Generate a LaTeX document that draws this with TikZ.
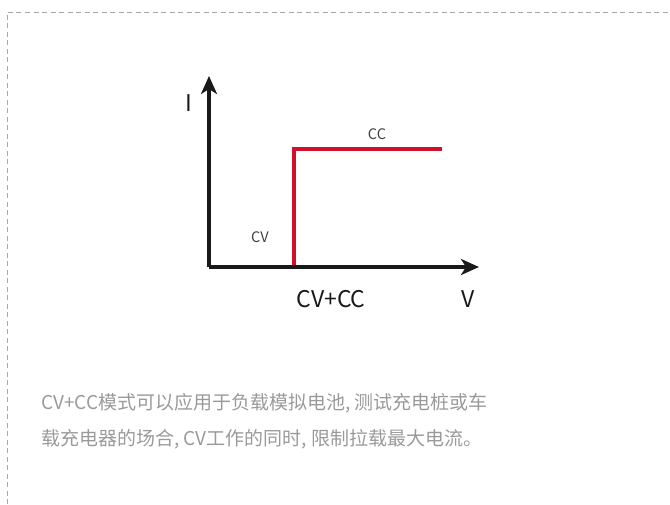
\documentclass[tikz,border=0pt]{standalone}
\usepackage{fontspec}
\setmainfont{Noto Sans CJK SC}
\usetikzlibrary{arrows.meta}
\definecolor{ccred}{HTML}{D0102C}
\definecolor{txtgray}{HTML}{9A9A9A}
\definecolor{bordergray}{HTML}{A8A8A8}
\tikzset{
  axis/.style={line width=3.2pt,draw=black!90,-{Stealth[length=18pt,width=16pt,inset=5pt]}},
  curve/.style={line width=3.2pt,draw=ccred},
  small/.style={font=\fontsize{14.5}{16}\selectfont,text=black!75,inner sep=0pt},
  big/.style={font=\fontsize{23}{26}\selectfont,text=black!90,inner sep=0pt},
  para/.style={font=\fontsize{19}{36}\selectfont,text=txtgray,inner sep=0pt,anchor=west},
  frame/.style={draw=bordergray,line width=1pt,dash pattern=on 5pt off 3.5pt}
}
\begin{document}
\begin{tikzpicture}[x=1pt,y=-1pt]
\useasboundingbox (0,0) rectangle (670,504);
\coordinate (fa) at (7,504);
\coordinate (fb) at (7,12);
\coordinate (fc) at (670,12);
\draw[frame] (fa) -- (fb) -- (fc);
\coordinate (o) at (209,267);
\coordinate (ytip) at (209,76);
\coordinate (xtip) at (479,267);
\coordinate (c0) at (294,267);
\coordinate (c1) at (294,149);
\coordinate (c2) at (442,149);
\draw[curve] (c0) -- (c1) -- (c2);
\draw[axis] (o) -- (ytip);
\draw[axis] (o) -- (xtip);
\node[big] (ilab) at (189,103) {I};
\node[big] (vlab) at (468,299) {V};
\node[big] (cvcc) at (331,299) {CV+CC};
\node[small] (cc) at (377,134) {CC};
\node[small] (cv) at (260,237) {CV};
\node[para] (l1) at (41,403) {CV+CC模式可以应用于负载模拟电池, 测试充电桩或车};
\node[para] (l2) at (41,439) {载充电器的场合, CV工作的同时, 限制拉载最大电流。};
\end{tikzpicture}
\end{document}
